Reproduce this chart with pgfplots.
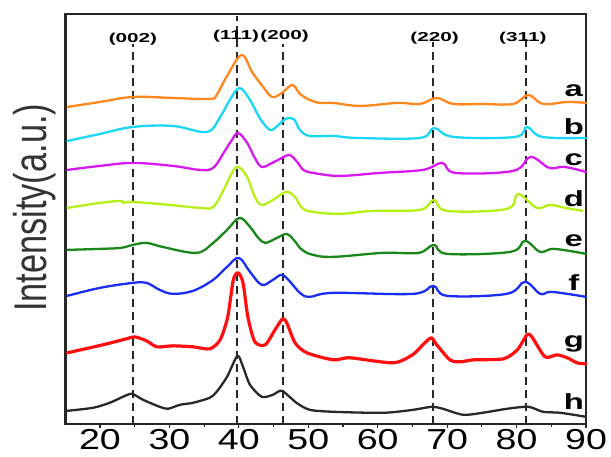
\documentclass[border=0pt]{standalone}
\usepackage{pgfplots}
\pgfplotsset{compat=1.18}
\usepackage{fontspec}
\setmainfont{Liberation Sans}
\newcommand\tl[1]{\scalebox{1.3}[1]{#1}}
\newcommand\pk[1]{{\fontsize{13}{13}\selectfont\bfseries\scalebox{1.6}[1]{#1}}}
\newcommand\lt[1]{{\fontsize{22}{22}\selectfont\bfseries\scalebox{1.5}[1]{#1}}}
\definecolor{cA}{RGB}{255,135,30}
\definecolor{cB}{RGB}{25,215,245}
\definecolor{cC}{RGB}{215,25,240}
\definecolor{cD}{RGB}{180,240,20}
\definecolor{cE}{RGB}{25,135,25}
\definecolor{cF}{RGB}{25,45,245}
\definecolor{cG}{RGB}{255,15,15}
\definecolor{cH}{RGB}{40,40,40}
\begin{document}
\begin{tikzpicture}
\begin{axis}[
  scale only axis, width=521bp, height=410bp,
  xmin=15, xmax=90, ymin=0, ymax=410, clip=false,
  axis line style={line width=2.5bp, black!85},
  xtick={20,30,40,50,60,70,80,90},
  xticklabels={\tl{20},\tl{30},\tl{40},\tl{50},\tl{60},\tl{70},\tl{80},\tl{90}},
  minor xtick={25,35,45,55,65,75,85},
  ytick=\empty, xtick pos=bottom, tick align=outside,
  major tick length=4bp, minor tick length=3bp,
  tick style={line width=1.2bp, black!85},
  xticklabel style={font=\fontsize{29}{29}\selectfont, inner sep=0pt, outer sep=0pt, anchor=north, yshift=-1.5bp},
  every axis plot/.append style={line join=round, line cap=round},
]
\coordinate (LL) at (rel axis cs:0,0);
\coordinate (UR) at (rel axis cs:1,1);
% reference dashed lines
\addplot[cH, line width=2bp, line cap=butt, dash pattern=on 8bp off 5bp] coordinates {(24.75,0) (24.75,380)};
\addplot[cH, line width=2bp, line cap=butt, dash pattern=on 8bp off 5bp] coordinates {(39.8,0) (39.8,408)};
\addplot[cH, line width=2bp, line cap=butt, dash pattern=on 8bp off 5bp] coordinates {(46.4,0) (46.4,380)};
\addplot[cH, line width=2bp, line cap=butt, dash pattern=on 8bp off 5bp] coordinates {(68.0,0) (68.0,382)};
\addplot[cH, line width=2bp, line cap=butt, dash pattern=on 8bp off 5bp] coordinates {(81.4,0) (81.4,386)};
% a
\addplot[cA, line width=2.3bp, smooth, tension=0.6] coordinates {
(15.3,317) (20,322) (24.75,327) (30.5,326) (35.8,325) (36.8,329) (38.3,348) (40.4,369) (41.9,352) (43.5,337) (44.8,327) (46.2,331) (47.7,339) (48.8,330) (50.2,324) (51.7,321) (53.6,321) (57.5,318) (62.8,321) (66.1,320) (68.5,326) (70.9,320) (75,320) (79.5,320) (81.7,329) (83.8,320) (87.3,322) (90,321)};
% b
\addplot[cB, line width=2.3bp, smooth, tension=0.6] coordinates {
(15.3,283) (20,290) (24.75,297) (30.5,298) (35.4,292) (37.3,307) (38.7,324) (40.1,336) (41.6,324) (43,306) (44.5,294) (45.7,299) (46.7,305) (47.9,305) (48.8,294) (50.2,288) (53.6,288) (57,286) (66.1,286) (68.1,296) (70.9,287) (79.8,287) (81.5,297) (83.7,287) (90,286)};
% c
\addplot[cC, line width=2.3bp, smooth, tension=0.6] coordinates {
(15.3,254) (20,258) (24.75,261) (30.5,258) (34.4,254) (36.3,256) (37.8,271) (39,284) (39.9,291) (41.2,281) (42.3,266) (43.3,257) (44.8,261) (46.2,266) (47.3,269) (48.4,262) (49.3,254) (50.7,251) (54.5,248) (60.3,251) (66.5,254) (69.3,261) (71.2,251) (79.5,253) (82,267) (84.7,256) (86.9,257) (90,252)};
% d
\addplot[cD, line width=2.3bp, smooth, tension=0.6] coordinates {
(15.3,216) (20,221) (23,223) (23.3,221) (24.75,222) (30,219) (34.4,216) (36.3,217) (37.8,234) (39,251) (39.9,257) (41.2,247) (42.3,227) (43.3,219) (44.9,224) (46.4,231) (47.1,232) (48.1,227) (49.1,216) (50.7,212) (54.5,210) (59.3,213) (66.1,214) (68.1,224) (70,213) (78.6,215) (80.2,230) (82.9,216) (84.8,219) (87,216) (89.5,213)};
% e
\addplot[cE, line width=2.3bp, smooth, tension=0.6] coordinates {
(15.3,174) (20,175) (23,176) (24.75,179) (26.7,181) (29,177) (33.9,171) (36.3,181) (38.3,194) (40.1,206) (41.6,197) (42.8,186) (43.8,181) (45.5,186) (46.9,190) (47.9,184) (49.1,174) (50.7,169) (53.6,167) (60.8,171) (65.9,171) (68.1,179) (70,170) (79.1,172) (81.2,183) (83.4,172) (85.4,175) (90,170)};
% f
\addplot[cF, line width=2.3bp, smooth, tension=0.6] coordinates {
(15.3,128) (20,136) (24.75,141) (26.7,141) (28.6,134) (30.5,130) (33.4,133) (36.3,144) (38.3,157) (40,166) (41.6,152) (43.3,139) (44.9,144) (46.2,149) (47.4,142) (48.8,131) (50.2,127) (53.6,131) (65.1,130) (68,138) (70,128) (78.6,130) (81.2,142) (83.4,130) (84.8,132) (87.3,130) (90,127)};
% g
\addplot[cG, line width=3.2bp, smooth, tension=0.45] coordinates {
(15.3,71) (20.4,79) (23.8,85) (25,87) (26.7,83) (28.2,77) (30.5,78) (33.4,77) (35.8,75) (37.3,84) (38.4,107) (39.2,144) (39.9,151) (40.6,141) (41.3,107) (42.3,82) (43.8,79) (45.2,94) (46.3,105) (46.9,101) (48.1,81) (49.8,71) (53.6,64) (56,66) (62.2,61) (65,69) (66.5,79) (67.7,86) (68.5,79) (70.4,64) (71.9,62) (73.8,64) (78.1,65) (80.1,74) (81.5,89) (82.2,87) (84.1,67) (85.8,69) (87.3,66) (88.7,61) (90,60)};
% h
\addplot[cH, line width=2.3bp, smooth, tension=0.45] coordinates {
(15.3,13) (19,16) (21.4,21) (23.3,27) (24.6,30) (26.2,24) (28.6,17) (29.8,15) (31.5,19) (33.4,21) (35.8,26) (36.8,32) (38.3,47) (39.8,68) (40.6,57) (41.6,39) (43.3,27) (44.9,29) (46.2,33) (48.3,21) (50.2,14) (53.6,12) (60.8,11) (65.1,14) (67.8,17) (69.4,15) (72.3,9) (75.1,11) (78.6,15) (81.7,17) (83.8,12) (86.3,11) (90,7)};
% peak labels
\node[anchor=base, inner sep=0pt] at (axis cs:24.75,381.5) {\pk{(002)}};
\node[anchor=base, inner sep=0pt] at (axis cs:39.6,384.5) {\pk{(111)}};
\node[anchor=base, inner sep=0pt] at (axis cs:46.6,384.5) {\pk{(200)}};
\node[anchor=base, inner sep=0pt] at (axis cs:68.2,382.5) {\pk{(220)}};
\node[anchor=base, inner sep=0pt] at (axis cs:80.9,382.5) {\pk{(311)}};
% sample letters
\node[anchor=base, inner sep=0pt] at (axis cs:88.25,327) {\lt{a}};
\node[anchor=base, inner sep=0pt] at (axis cs:88.25,289) {\lt{b}};
\node[anchor=base, inner sep=0pt] at (axis cs:88.25,258) {\lt{c}};
\node[anchor=base, inner sep=0pt] at (axis cs:88.25,217) {\lt{d}};
\node[anchor=base, inner sep=0pt] at (axis cs:88.25,177) {\lt{e}};
\node[anchor=base, inner sep=0pt] at (axis cs:88.25,133) {\lt{f}};
\node[anchor=base, inner sep=0pt] at (axis cs:88.25,76) {\lt{g}};
\node[anchor=base, inner sep=0pt] at (axis cs:88.25,14) {\lt{h}};
% y label
\node[rotate=90, anchor=base, inner sep=0pt, text=black!80] at (axis cs:12.36,216) {\fontsize{46}{46}\selectfont\scalebox{0.75}[1]{Intensity(a.u.)}};
\end{axis}
\pgfresetboundingbox
\path[use as bounding box] ([xshift=-65.3bp,yshift=-33bp]LL) rectangle ([xshift=25bp,yshift=14bp]UR);
\end{tikzpicture}
\end{document}
